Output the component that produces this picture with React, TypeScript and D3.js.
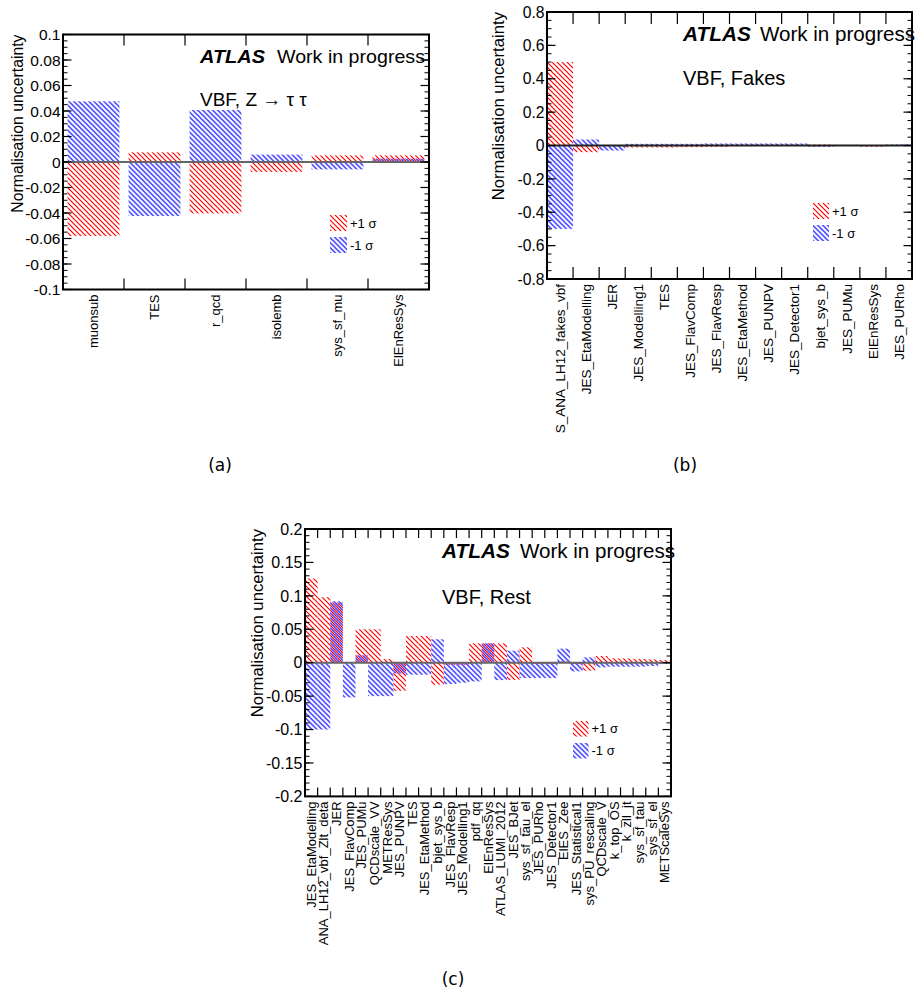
import React from "react";
import * as d3 from "d3";

// ---------- Panel (a): VBF, Z -> tautau ----------
const catsA = ["muonsub", "TES", "r_qcd", "isolemb", "sys_sf_mu", "ElEnResSys"];
const upA = [-0.058, 0.0076, -0.0403, -0.0078, 0.0052, 0.0052];
const downA = [0.0476, -0.0424, 0.0408, 0.0058, -0.0058, 0.0026];
const yTicksA = [-0.1, -0.08, -0.06, -0.04, -0.02, 0, 0.02, 0.04, 0.06, 0.08, 0.1];

// ---------- Panel (b): VBF, Fakes ----------
const catsB = [
  "S_ANA_LH12_fakes_vbf", "JES_EtaModelling", "JER", "JES_Modelling1", "TES",
  "JES_FlavComp", "JES_FlavResp", "JES_EtaMethod", "JES_PUNPV", "JES_Detector1",
  "bjet_sys_b", "JES_PUMu", "ElEnResSys", "JES_PURho",
];
const upB = [0.5, -0.04, 0, -0.012, -0.012, -0.01, -0.008, -0.004, -0.002, 0.002, 0.006, 0.003, -0.008, 0.002];
const downB = [-0.5, 0.036, -0.03, 0.01, 0.01, 0.01, 0.012, 0.012, 0.012, 0.012, -0.008, 0.004, 0.001, 0.006];
const yTicksB = [-0.8, -0.6, -0.4, -0.2, 0, 0.2, 0.4, 0.6, 0.8];

// ---------- Panel (c): VBF, Rest ----------
const catsC = [
  "JES_EtaModelling", "ANA_LH12_vbf_Zlt_deta", "JER", "JES_FlavComp", "JES_PUMu",
  "QCDscale_VV", "METResSys", "JES_PUNPV", "TES", "JES_EtaMethod", "bjet_sys_b",
  "JES_FlavResp", "JES_Modelling1", "pdf_qq", "ElEnResSys", "ATLAS_LUMI_2012",
  "JES_BJet", "sys_sf_tau_el", "JES_PURho", "JES_Detector1", "ElES_Zee",
  "JES_Statistical1", "sys_PU_rescaling", "QCDscale_V", "k_top_OS", "k_zll_jt",
  "sys_sf_tau", "sys_sf_el", "METScaleSys",
];
const upC = [
  0.126, 0.098, 0.09, 0, 0.05, 0.05, 0.0055, -0.042, 0.04, 0.04, -0.033,
  -0.003, -0.003, 0.029, 0.029, 0.029, -0.026, 0.023, -0.002, -0.002, 0.002,
  -0.002, -0.012, 0.01, 0.0065, 0.0065, 0.0055, 0.005, 0.004,
];
const downC = [
  -0.1, -0.1, 0.092, -0.052, 0.011, -0.05, -0.05, -0.016, -0.018, -0.018, 0.035,
  -0.032, -0.03, -0.028, 0.029, -0.026, 0.018, -0.023, -0.023, -0.023, 0.021,
  -0.013, 0.008, -0.007, -0.006, -0.006, -0.006, -0.005, -0.002,
];
const yTicksC = [-0.2, -0.15, -0.1, -0.05, 0, 0.05, 0.1, 0.15, 0.2];

const SANS = "'Liberation Sans', Arial, Helvetica, sans-serif";

type PanelProps = {
  cats: string[];
  up: number[];
  down: number[];
  yTicks: number[];
  minorStep: number;
  x0: number; x1: number; y0: number; y1: number;
  barOffset: number; barFrac: number;
  tickFont: number; labelFont: number; titleFont: number; titleX: number;
  xTickLen: number;
  zeroColor: string;
  atlasX: number; atlasY: number; atlasW: number; wipX: number; wipW: number; atlasFont: number;
  chanText: string; chanX: number; chanY: number; chanFont: number;
  legX: number; legY1: number; legY2: number; legW: number; legH: number; legFont: number;
  caption: string; capX: number; capY: number;
};

function Panel(p: PanelProps) {
  const dom = [p.yTicks[0], p.yTicks[p.yTicks.length - 1]];
  const y = d3.scaleLinear().domain(dom).range([p.y1, p.y0]);
  const x = d3.scaleBand<string>().domain(p.cats).range([p.x0, p.x1]).paddingInner(0).paddingOuter(0);
  const bw = x.bandwidth();
  const n = Math.round((dom[1] - dom[0]) / p.minorStep);
  const minors = d3.range(n + 1).map((i) => dom[0] + i * p.minorStep);
  const edges = d3.range(1, p.cats.length).map((i) => p.x0 + i * bw);
  const bar = (vals: number[], fill: string) =>
    vals.map((v, i) => {
      const c = p.cats[i];
      const top = y(Math.max(v, 0));
      const bot = y(Math.min(v, 0));
      return (
        <rect key={fill + i} x={(x(c) as number) + p.barOffset * bw} width={p.barFrac * bw}
          y={top} height={Math.max(0, bot - top)} fill={fill} />
      );
    });
  return (
    <g>
      {bar(p.up, "url(#hatchRed)")}
      {bar(p.down, "url(#hatchBlue)")}
      <line x1={p.x0} x2={p.x1} y1={y(0)} y2={y(0)} stroke={p.zeroColor} strokeWidth={2} />
      {minors.map((v, i) => (
        <g key={"mn" + i}>
          <line x1={p.x0} x2={p.x0 + 4.5} y1={y(v)} y2={y(v)} stroke="#000" strokeWidth={1} />
          <line x1={p.x1} x2={p.x1 - 4.5} y1={y(v)} y2={y(v)} stroke="#000" strokeWidth={1} />
        </g>
      ))}
      {p.yTicks.map((v, i) => (
        <g key={"mj" + i}>
          <line x1={p.x0} x2={p.x0 + 8.5} y1={y(v)} y2={y(v)} stroke="#000" strokeWidth={1.2} />
          <line x1={p.x1} x2={p.x1 - 8.5} y1={y(v)} y2={y(v)} stroke="#000" strokeWidth={1.2} />
          <text x={p.x0 - 2.5} y={y(v)} dy="0.36em" textAnchor="end" fontSize={p.tickFont}
            fontFamily={SANS} fill="#000">{String(v)}</text>
        </g>
      ))}
      {edges.map((ex, i) => (
        <g key={"xe" + i}>
          <line x1={ex} x2={ex} y1={p.y1} y2={p.y1 - p.xTickLen} stroke="#000" strokeWidth={1.2} />
          <line x1={ex} x2={ex} y1={p.y0} y2={p.y0 + p.xTickLen} stroke="#000" strokeWidth={1.2} />
        </g>
      ))}
      <rect x={p.x0} y={p.y0} width={p.x1 - p.x0} height={p.y1 - p.y0} fill="none" stroke="#000" strokeWidth={2} />
      {p.cats.map((c) => {
        const cx = (x(c) as number) + bw / 2;
        const ty = p.y1 + 5;
        return (
          <text key={"lab" + c} transform={`translate(${cx},${ty}) rotate(-90)`} dy="0.35em"
            textAnchor="end" fontSize={p.labelFont} fontFamily={SANS} fill="#000">{c}</text>
        );
      })}
      <text transform={`translate(${p.titleX},${p.y0}) rotate(-90)`} dy="0.35em" textAnchor="end"
        fontSize={p.titleFont} fontFamily={SANS} fill="#000">Normalisation uncertainty</text>
      <text x={p.atlasX} y={p.atlasY} fontSize={p.atlasFont} fontFamily={SANS} fontWeight="bold"
        fontStyle="italic" textLength={p.atlasW} lengthAdjust="spacingAndGlyphs" fill="#000">ATLAS</text>
      <text x={p.wipX} y={p.atlasY} fontSize={p.atlasFont} fontFamily={SANS}
        textLength={p.wipW} lengthAdjust="spacingAndGlyphs" fill="#000">Work in progress</text>
      <text x={p.chanX} y={p.chanY} fontSize={p.chanFont} fontFamily={SANS} fill="#000">{p.chanText}</text>
      <rect x={p.legX} y={p.legY1} width={p.legW} height={p.legH} fill="url(#hatchRed)" />
      <rect x={p.legX} y={p.legY2} width={p.legW} height={p.legH} fill="url(#hatchBlue)" />
      <text x={p.legX + p.legW + 3} y={p.legY1 + p.legH / 2} dy="0.36em" fontSize={p.legFont}
        fontFamily={SANS} fill="#000">+1 σ</text>
      <text x={p.legX + p.legW + 3} y={p.legY2 + p.legH / 2} dy="0.36em" fontSize={p.legFont}
        fontFamily={SANS} fill="#000">-1 σ</text>
      <text x={p.capX} y={p.capY} textAnchor="middle" fontSize={17}
        fontFamily="'DejaVu Sans', 'Liberation Sans', sans-serif" fill="#000">{p.caption}</text>
    </g>
  );
}

export default function App() {
  return (
    <svg width={919} height={999} style={{ position: "absolute", left: 0, top: 0, background: "#fff" }}>
      <defs>
        <pattern id="hatchRed" patternUnits="userSpaceOnUse" width={5} height={5}>
          <path d="M-1,-1 L6,6 M-1,4 L1,6 M4,-1 L6,1" stroke="#ff0000" strokeWidth={1.2} />
        </pattern>
        <pattern id="hatchBlue" patternUnits="userSpaceOnUse" width={5} height={5}
          patternTransform="translate(2.5,0)">
          <path d="M-1,-1 L6,6 M-1,4 L1,6 M4,-1 L6,1" stroke="#0000ff" strokeWidth={1.2} />
        </pattern>
      </defs>
      <rect x={0} y={0} width={919} height={999} fill="#fff" />
      <Panel cats={catsA} up={upA} down={downA} yTicks={yTicksA} minorStep={0.005}
        x0={63} x1={429} y0={34.5} y1={289.5} barOffset={0.075} barFrac={0.85}
        tickFont={15.5} labelFont={13} titleFont={15.8} titleX={17} xTickLen={11} zeroColor="#666"
        atlasX={200} atlasY={63} atlasW={65} wipX={277} wipW={148} atlasFont={19}
        chanText="VBF, Z → τ τ" chanX={200} chanY={106} chanFont={19}
        legX={330} legY1={215} legY2={237} legW={17} legH={16} legFont={13}
        caption="(a)" capX={220} capY={471} />
      <Panel cats={catsB} up={upB} down={downB} yTicks={yTicksB} minorStep={0.05}
        x0={547} x1={912} y0={12} y1={279} barOffset={0} barFrac={1}
        tickFont={15.7} labelFont={13.5} titleFont={16.7} titleX={498} xTickLen={12} zeroColor="#222"
        atlasX={683} atlasY={41} atlasW={68} wipX={760} wipW={155} atlasFont={20}
        chanText="VBF, Fakes" chanX={683} chanY={85} chanFont={20}
        legX={813} legY1={203} legY2={225} legW={16} legH={16} legFont={13}
        caption="(b)" capX={685} capY={471} />
      <Panel cats={catsC} up={upC} down={downC} yTicks={yTicksC} minorStep={0.01}
        x0={305} x1={671} y0={529} y1={796.4} barOffset={0} barFrac={1}
        tickFont={16} labelFont={13} titleFont={16.7} titleX={257} xTickLen={9} zeroColor="#666"
        atlasX={442} atlasY={558} atlasW={68} wipX={520} wipW={155} atlasFont={20}
        chanText="VBF, Rest" chanX={442} chanY={604} chanFont={20}
        legX={573} legY1={721} legY2={743} legW={15.5} legH={15.5} legFont={13}
        caption="(c)" capX={453} capY={985} />
    </svg>
  );
}
